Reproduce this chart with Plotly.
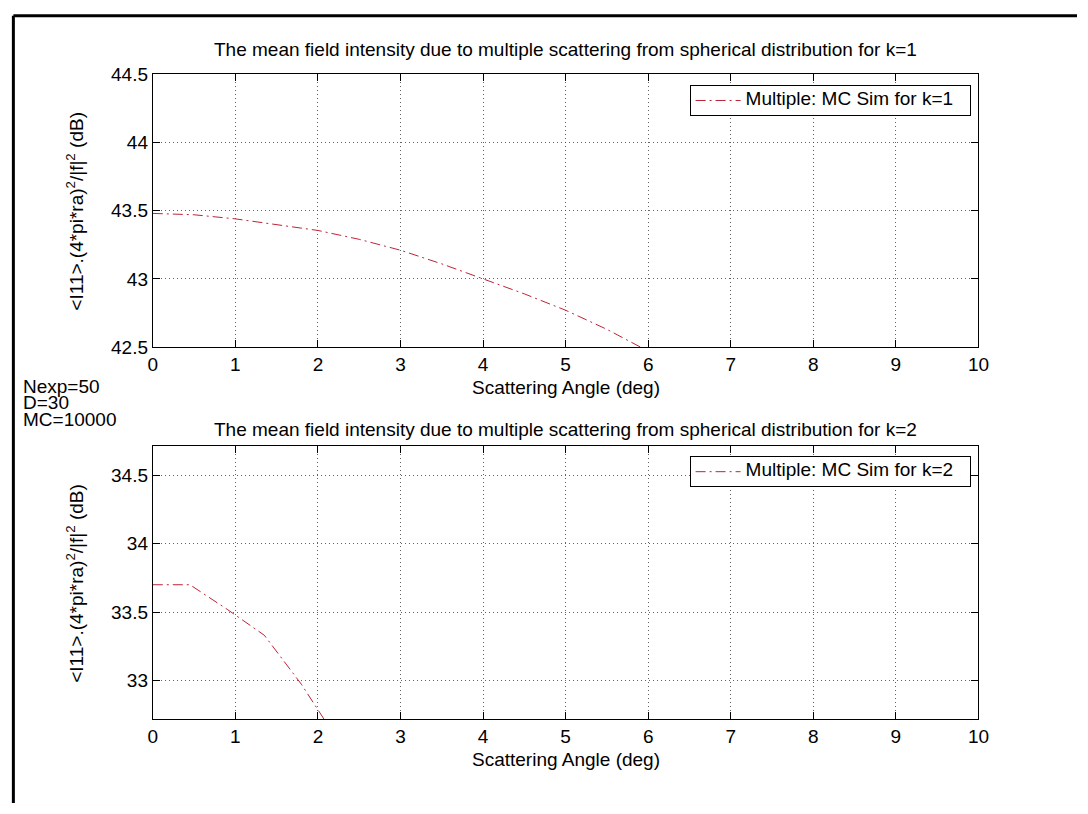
import plotly.graph_objects as go

# Figure geometry (pixels)
W, H = 1088, 814

# ---- data ----
angle_k1 = [0.0, 0.5, 1.0, 1.5, 2.0, 2.5, 3.0, 3.5, 4.0, 4.5, 5.0, 5.5, 6.0]
intensity_k1 = [43.48, 43.47, 43.44, 43.40, 43.355, 43.29, 43.21, 43.11, 43.00, 42.89, 42.77, 42.63, 42.47]

angle_k2 = [0.0, 0.45, 0.9, 1.35, 1.8, 2.25]
intensity_k2 = [33.70, 33.70, 33.52, 33.33, 32.97, 32.55]

x_ticks = [0, 1, 2, 3, 4, 5, 6, 7, 8, 9, 10]
y_ticks_k1 = [42.5, 43, 43.5, 44, 44.5]
y_ticks_k2 = [33, 33.5, 34, 34.5]
y_range_k1 = [42.5, 44.5]
y_range_k2 = [32.714, 34.714]

title_k1 = "The mean field intensity due to multiple scattering from spherical distribution for k=1"
title_k2 = "The mean field intensity due to multiple scattering from spherical distribution for k=2"
xlabel = "Scattering Angle (deg)"
ylabel = "&lt;I11&gt;.(4*pi*ra)<sup>2</sup>/|f|<sup>2</sup> (dB)"
notes = ["Nexp=50", "D=30", "MC=10000"]
series_names = ["Multiple: MC Sim for k=1", "Multiple: MC Sim for k=2"]

FONT = "Liberation Sans, Arial, Helvetica, sans-serif"
FS = 19
LINE_COLOR = "rgb(190,35,55)"
DASH = "10px,4px,2px,4px"


def px(x):
    return x / W


def py(y):
    return 1 - y / H


def legend_label(s):
    # compact legend row height while keeping the entry text at full size
    return f'<span style="font-size:{FS}px">{s}&nbsp;&nbsp;</span>'


fig = go.Figure()
fig.add_trace(go.Scatter(
    x=angle_k1, y=intensity_k1, mode="lines", name=legend_label(series_names[0]),
    line=dict(color=LINE_COLOR, width=1, dash=DASH), xaxis="x", yaxis="y", legend="legend"))
fig.add_trace(go.Scatter(
    x=angle_k2, y=intensity_k2, mode="lines", name=legend_label(series_names[1]),
    line=dict(color=LINE_COLOR, width=1, dash=DASH), xaxis="x2", yaxis="y2", legend="legend2"))

axis_common = dict(
    showline=True, linecolor="black", linewidth=1, mirror="allticks",
    ticks="inside", ticklen=7, tickcolor="black", tickwidth=1,
    showgrid=True, gridcolor="rgba(60,60,60,0.8)", gridwidth=1, griddash="1px,3px",
    zeroline=False, tickfont=dict(family=FONT, size=FS, color="black"),
)

legend_common = dict(xanchor="right", yanchor="top", itemwidth=45,
                     bgcolor="white", bordercolor="black", borderwidth=1,
                     font=dict(family=FONT, size=11, color="black"))

xdom = [px(150), px(988)]
fig.update_layout(
    width=W, height=H, margin=dict(l=0, r=0, t=0, b=0),
    paper_bgcolor="white", plot_bgcolor="white",
    font=dict(family=FONT, size=FS, color="black"),
    xaxis=dict(domain=xdom, anchor="y", range=[0, 10], tickvals=x_ticks, **axis_common),
    yaxis=dict(domain=[py(346), py(66)], anchor="x", range=y_range_k1,
               tickvals=y_ticks_k1, ticktext=[f"{v:g}" for v in y_ticks_k1], **axis_common),
    xaxis2=dict(domain=xdom, anchor="y2", range=[0, 10], tickvals=x_ticks, **axis_common),
    yaxis2=dict(domain=[py(728), py(448)], anchor="x2", range=y_range_k2,
                tickvals=y_ticks_k2, ticktext=[f"{v:g}" for v in y_ticks_k2], **axis_common),
    legend=dict(x=px(980), y=py(77), **legend_common),
    legend2=dict(x=px(980), y=py(458), **legend_common),
    showlegend=True,
)

ann = []
cx = px((150 + 988) / 2)
for t, yc in [(title_k1, 41), (title_k2, 431)]:
    ann.append(dict(text=t, x=cx, y=py(yc), xref="paper", yref="paper",
                    xanchor="center", yanchor="middle", showarrow=False))
for yc in [387, 769]:
    ann.append(dict(text=xlabel, x=cx, y=py(yc), xref="paper", yref="paper",
                    xanchor="center", yanchor="middle", showarrow=False))
for yc in [206, 588]:
    ann.append(dict(text=ylabel, x=px(71), y=py(yc), xref="paper", yref="paper",
                    xanchor="center", yanchor="middle", textangle=-90, showarrow=False))
for i, n in enumerate(notes):
    ann.append(dict(text=n, x=px(16), y=py(386 + 17 * i), xref="paper", yref="paper",
                    xanchor="left", yanchor="middle", showarrow=False))
fig.update_layout(annotations=ann)

# Figure frame on the left and top edges
fig.add_shape(type="line", xref="paper", yref="paper", x0=px(8.5), y0=py(6), x1=1, y1=py(6),
              line=dict(color="black", width=3))
fig.add_shape(type="line", xref="paper", yref="paper", x0=px(8.5), y0=py(6), x1=px(8.5), y1=0,
              line=dict(color="black", width=3))

# Place the plot flush with the page origin
fig.write_html("out.html",
               post_script="document.body.style.margin='0';document.body.style.overflow='hidden';")
